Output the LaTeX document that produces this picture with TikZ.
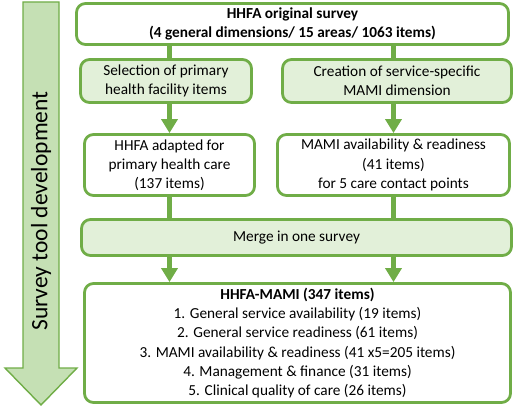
\documentclass[tikz,border=0pt]{standalone}
\usepackage{fontspec}
\setmainfont{Carlito}
\usetikzlibrary{arrows.meta}
\definecolor{gborder}{HTML}{70AD47}
\definecolor{gfill}{HTML}{E2F0D9}
\definecolor{gbig}{HTML}{C5E0B4}
\tikzset{
  box/.style={draw=gborder, line width=2.8pt, rounded corners=9pt, fill=white,
    align=center, inner sep=0pt, font=\fontsize{15.3}{19.2}\selectfont},
  gbox/.style={box, fill=gfill},
  conn/.style={draw=gborder, line width=5pt},
  arr/.style={conn, -{Triangle[width=16pt,length=14pt]}},
}
\begin{document}
\begin{tikzpicture}[x=1pt,y=-1pt]
\useasboundingbox (0,0) rectangle (516,406);
% big arrow
\draw[draw=gborder, fill=gbig, line width=1.4pt, line join=miter]
  (23,2) -- (59,2) -- (59,368) -- (77,368) -- (41,405) -- (5,368) -- (23,368) -- cycle;
\node[rotate=90, font=\fontsize{23.5}{28}\selectfont] (lbl) at (41,211) {Survey tool development};
% boxes
\node[box, minimum width=432pt, minimum height=41pt] (top) at (292.5,24)
  {\textbf{HHFA original survey}\\\textbf{(4 general dimensions/ 15 areas/ 1063 items)}};
\node[gbox, minimum width=171pt, minimum height=43pt] (sel) at (166,81)
  {Selection of primary\\health facility items};
\node[gbox, minimum width=229pt, minimum height=43pt] (cre) at (397,81)
  {Creation of service-specific\\MAMI dimension};
\node[box, minimum width=170pt, minimum height=61pt] (hh) at (169.5,165)
  {HHFA adapted for\\primary health care\\(137 items)};
\node[box, minimum width=232pt, minimum height=61pt] (mami) at (393.5,165)
  {MAMI availability \& readiness\\(41 items)\\for 5 care contact points};
\node[gbox, minimum width=430pt, minimum height=36pt] (merge) at (296.5,237.5)
  {Merge in one survey};
\node[box, minimum width=426pt, minimum height=119pt] (res) at (297.5,343)
  {\textbf{HHFA-MAMI (347 items)}\\
   1. General service availability (19 items)\\
   2. General service readiness (61 items)\\
   3. MAMI availability \& readiness (41 x5=205 items)\\
   4. Management \& finance (31 items)\\
   5. Clinical quality of care (26 items)};
% connectors
\draw[conn] (top.south -| hh) -- (sel.north -| hh);
\draw[conn] (top.south -| mami) -- (cre.north -| mami);
\draw[arr] (sel.south -| hh) -- (hh.north);
\draw[arr] (cre.south -| mami) -- (mami.north);
\draw[conn] (hh.south) -- (merge.north -| hh);
\draw[conn] (mami.south) -- (merge.north -| mami);
\draw[arr] (merge.south -| hh) -- (res.north -| hh);
\draw[arr] (merge.south -| mami) -- (res.north -| mami);
\end{tikzpicture}
\end{document}
